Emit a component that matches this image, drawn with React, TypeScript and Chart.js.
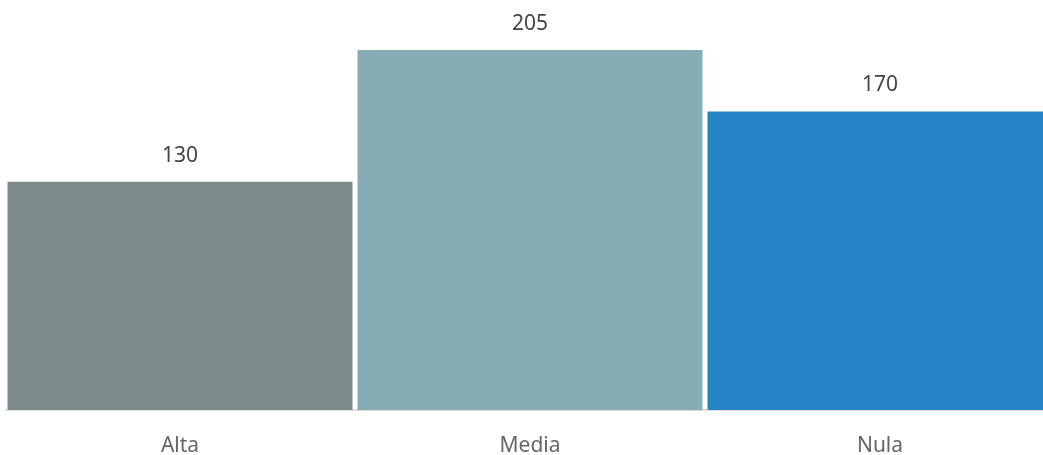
import React, { useEffect, useRef } from "react";
import { Chart, registerables } from "chart.js";

Chart.register(...registerables);

const categories = ["Alta", "Media", "Nula"];
const values = [130, 205, 170];
const barColors = ["#7b8b8c", "#86acb6", "#2683c6"];

const FONT = "'Noto Sans', 'Open Sans', sans-serif";

const valueLabels = {
  id: "valueLabels",
  afterDatasetsDraw(chart: any) {
    const ctx = chart.ctx;
    const meta = chart.getDatasetMeta(0);
    ctx.save();
    ctx.font = `21px ${FONT}`;
    ctx.fillStyle = "#444444";
    ctx.textAlign = "center";
    ctx.textBaseline = "alphabetic";
    meta.data.forEach((bar: any, i: number) => {
      ctx.fillText(String(values[i]), bar.x, bar.y - 20);
    });
    ctx.restore();
  },
};

export default function App() {
  const ref = useRef<HTMLCanvasElement>(null);
  useEffect(() => {
    document.body.style.margin = "0";
    const chart = new Chart(ref.current!, {
      type: "bar",
      data: {
        labels: categories,
        datasets: [
          {
            data: values,
            backgroundColor: barColors,
            borderWidth: 0,
            barPercentage: 345 / 350,
            categoryPercentage: 1,
          },
        ],
      },
      options: {
        animation: false,
        responsive: true,
        maintainAspectRatio: false,
        layout: { padding: { top: 0, bottom: 0, left: 0, right: 0 } },
        plugins: {
          legend: { display: false },
          tooltip: { enabled: false },
        },
        scales: {
          x: {
            grid: { display: false, drawTicks: false },
            border: { display: true, color: "#dddddd", width: 2 },
            ticks: {
              color: "#666666",
              font: { family: FONT, size: 21, lineHeight: 1.1 },
              padding: 25,
            },
          },
          y: {
            display: false,
            min: 0,
            max: 233.5,
          },
        },
      },
      plugins: [valueLabels],
    });
    return () => chart.destroy();
  }, []);
  return (
    <div style={{ position: "relative", width: 1043, height: 455, overflow: "hidden" }}>
      <div style={{ position: "absolute", left: 5, top: 0, width: 1050, height: 483 }}>
        <canvas ref={ref} />
      </div>
    </div>
  );
}
